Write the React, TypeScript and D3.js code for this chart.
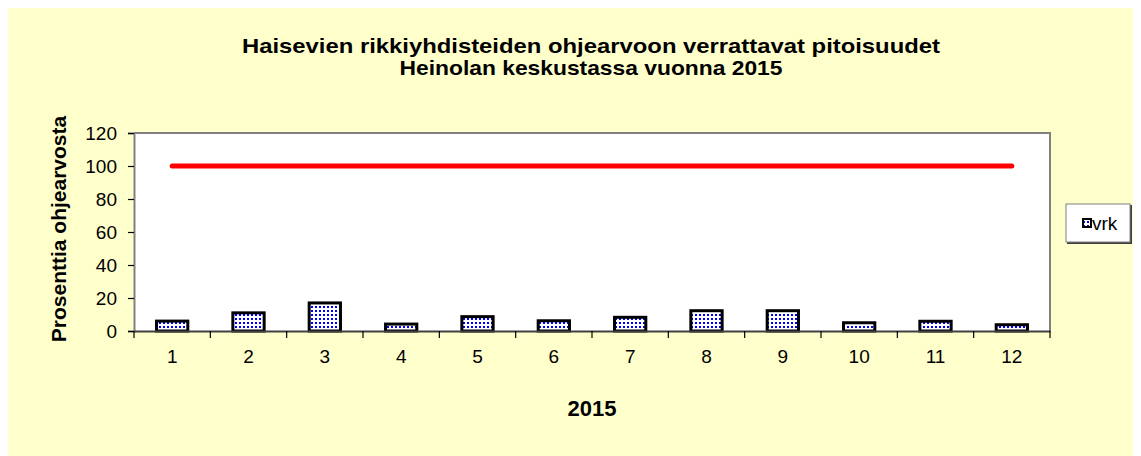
import { useEffect, useRef } from 'react';
import * as d3 from 'd3';

const months = ['1', '2', '3', '4', '5', '6', '7', '8', '9', '10', '11', '12'];
const vrk = [6, 11, 17, 4.2, 8.7, 6.2, 8.3, 12.3, 12.3, 5, 5.9, 3.8];
const ohjearvo = [100, 100, 100, 100, 100, 100, 100, 100, 100, 100, 100, 100];
const yTicks = [0, 20, 40, 60, 80, 100, 120];

const W = 1133;
const H = 448;
const FONT = "'Liberation Sans', Arial, sans-serif";

export default function App() {
  const ref = useRef<SVGSVGElement>(null);

  useEffect(() => {
    const svg = d3.select(ref.current);
    svg.selectAll('*').remove();

    const margin = { top: 125, right: 91, bottom: 125, left: 126 };
    const w = W - margin.left - margin.right;
    const h = H - margin.top - margin.bottom;

    const defs = svg.append('defs');
    const pat = defs.append('pattern').attr('id', 'dots').attr('patternUnits', 'userSpaceOnUse')
      .attr('width', 4).attr('height', 4);
    pat.append('rect').attr('width', 4).attr('height', 4).attr('fill', '#fff');
    pat.append('rect').attr('x', 1).attr('y', 1).attr('width', 2).attr('height', 2).attr('fill', '#0000ff');

    svg.append('rect').attr('width', W).attr('height', H).attr('fill', '#ffffcc');

    const g = svg.append('g').attr('transform', `translate(${margin.left},${margin.top})`);
    g.append('rect').attr('width', w).attr('height', h).attr('fill', '#fff');

    const x = d3.scaleBand().domain(months).range([0, w]).paddingInner(0.59).paddingOuter(0.295);
    const xc = d3.scaleBand().domain(months).range([0, w]);
    const y = d3.scaleLinear().domain([0, 120]).range([h, 0]);

    // plot border (top / right)
    g.append('path').attr('d', `M0,0H${w}V${h}`).attr('fill', 'none')
      .attr('stroke', '#808080').attr('stroke-width', 2);

    // bars
    g.selectAll('.bar').data(vrk).enter().append('rect')
      .attr('x', (_, i) => x(months[i])!)
      .attr('y', d => y(d))
      .attr('width', x.bandwidth())
      .attr('height', d => y(0) - y(d))
      .attr('fill', 'url(#dots)').attr('stroke', '#000').attr('stroke-width', 3);

    // limit line
    const line = d3.line<number>()
      .x((_, i) => xc(months[i])! + xc.bandwidth() / 2)
      .y(d => y(d));
    g.append('path').datum(ohjearvo).attr('d', line).attr('fill', 'none')
      .attr('stroke', '#ff0000').attr('stroke-width', 5).attr('stroke-linecap', 'round');

    // y axis
    const ya = g.append('g').call(d3.axisLeft(y).tickValues(yTicks).tickSize(6).tickPadding(11));
    ya.select('.domain').attr('stroke', '#808080').attr('stroke-width', 2);
    ya.selectAll('.tick line').attr('stroke', '#000').attr('stroke-width', 1.2);
    ya.selectAll('.tick text').attr('font-family', FONT).attr('font-size', 19).attr('fill', '#000');

    // x axis
    const xa = g.append('g').attr('transform', `translate(0,${h})`)
      .call(d3.axisBottom(xc).tickSize(0).tickPadding(19));
    xa.select('.domain').attr('stroke', '#404040').attr('stroke-width', 2);
    xa.selectAll('.tick text').attr('font-family', FONT).attr('font-size', 19).attr('fill', '#000');
    const edges = [0, ...months.map(d => xc(d)! + xc.bandwidth())];
    g.append('g').selectAll('line').data(edges).enter().append('line')
      .attr('x1', d => d).attr('x2', d => d)
      .attr('y1', h).attr('y2', h + 7).attr('stroke', '#000').attr('stroke-width', 1.2);

    // titles
    const title = svg.append('text').attr('x', 583).attr('y', 45)
      .attr('text-anchor', 'middle').attr('font-family', FONT).attr('font-size', 21)
      .attr('font-weight', 'bold').attr('fill', '#000');
    title.append('tspan').attr('x', 583).attr('textLength', 698).attr('lengthAdjust', 'spacingAndGlyphs')
      .text('Haisevien rikkiyhdisteiden ohjearvoon verrattavat pitoisuudet');
    title.append('tspan').attr('x', 583).attr('dy', 22).attr('textLength', 383).attr('lengthAdjust', 'spacingAndGlyphs')
      .text('Heinolan keskustassa vuonna 2015');

    svg.append('text').attr('x', margin.left + w / 2).attr('y', 408)
      .attr('text-anchor', 'middle').attr('font-family', FONT).attr('font-size', 22)
      .attr('font-weight', 'bold').text('2015');

    svg.append('text')
      .attr('transform', `translate(58,${margin.top + h / 2 - 3}) rotate(-90)`)
      .attr('text-anchor', 'middle').attr('font-family', FONT).attr('font-size', 21)
      .attr('font-weight', 'bold').text('Prosenttia ohjearvosta');

    // legend
    const lg = svg.append('g').attr('transform', 'translate(1058,196)');
    lg.append('rect').attr('x', 1).attr('y', 1).attr('width', 65).attr('height', 39).attr('fill', '#404040');
    lg.append('rect').attr('width', 64).attr('height', 38).attr('fill', '#fff')
      .attr('stroke', '#808080').attr('stroke-width', 1);
    lg.append('rect').attr('x', 17).attr('y', 15).attr('width', 8).attr('height', 8)
      .attr('fill', 'url(#dots)').attr('stroke', '#000').attr('stroke-width', 2);
    lg.append('text').attr('x', 26).attr('y', 26).attr('font-family', FONT).attr('font-size', 19)
      .text('vrk');
  }, []);

  return <svg ref={ref} width={W} height={H} style={{ display: 'block' }} />;
}
